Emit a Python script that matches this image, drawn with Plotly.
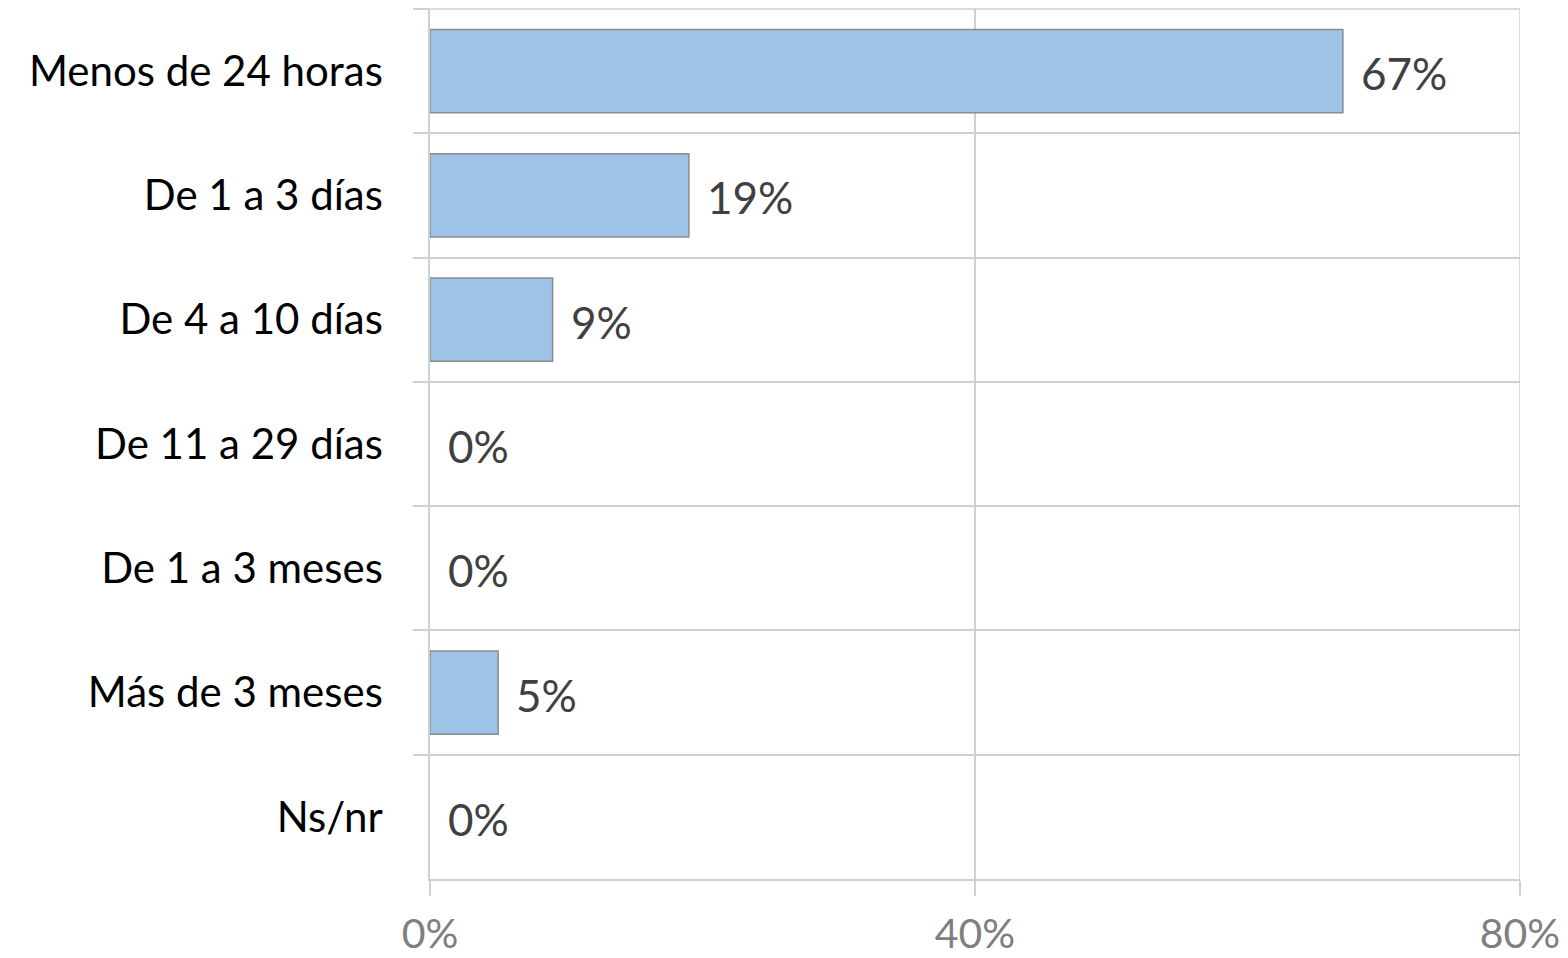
import plotly.graph_objects as go

categories = ["Menos de 24 horas", "De 1 a 3 días", "De 4 a 10 días", "De 11 a 29 días",
              "De 1 a 3 meses", "Más de 3 meses", "Ns/nr"]
values = [67, 19, 9, 0, 0, 5, 0]
x_ticks = [0, 40, 80]
x_tick_labels = ["0%", "40%", "80%"]

font_family = "Lato, 'Open Sans', sans-serif"
grid_color = "#D0D0D0"

fig = go.Figure()
fig.add_trace(go.Bar(
    y=categories,
    x=values,
    orientation="h",
    marker=dict(color="#9DC3E6",
                line=dict(color="#8C8C8C", width=[1.5 if v > 0 else 0 for v in values])),
    hoverinfo="skip",
))

# value labels just past the end of each bar
for cat, v in zip(categories, values):
    fig.add_annotation(
        x=v, y=cat, text=f"{v}%", showarrow=False,
        xanchor="left", xshift=16, yshift=-2, yanchor="middle",
        font=dict(family=font_family, size=44, color="#404040"),
    )

# closing lines along the top edge (with its outside tick) and at the 80% mark
fig.add_shape(type="line", xref="paper", yref="paper", x0=0, x1=1, y0=1, y1=1,
              line=dict(color=grid_color, width=1.5))
fig.add_shape(type="line", xref="paper", yref="paper", x0=-15, x1=0, y0=1, y1=1,
              xsizemode="pixel", xanchor=0, line=dict(color=grid_color, width=1.5))
fig.add_shape(type="line", xref="x", yref="paper", x0=80, x1=80, y0=0, y1=1,
              line=dict(color=grid_color, width=1.5))

fig.update_layout(
    width=1568, height=958,
    margin=dict(l=430, r=48, t=9, b=79),
    paper_bgcolor="white", plot_bgcolor="white",
    bargap=0.33,
    showlegend=False,
)
fig.update_xaxes(
    range=[0, 80], tickvals=x_ticks, ticktext=x_tick_labels,
    showgrid=True, gridcolor=grid_color, gridwidth=1.5,
    showline=True, linecolor=grid_color, linewidth=1.5,
    ticks="outside", ticklen=15, tickcolor=grid_color, tickwidth=1.5,
    tickfont=dict(family=font_family, size=41, color="#7F7F7F"),
    ticklabelstandoff=3,
    zeroline=False, automargin=False,
)
fig.update_yaxes(
    categoryorder="array", categoryarray=categories, autorange="reversed",
    tickson="boundaries", ticks="outside", ticklen=15, tickcolor=grid_color, tickwidth=1.5,
    showgrid=True, gridcolor=grid_color, gridwidth=1.5,
    showline=True, linecolor=grid_color, linewidth=1.5,
    tickfont=dict(family=font_family, size=42, color="#000000"),
    ticklabelstandoff=37, automargin=False,
)

fig.write_html("out.html")
